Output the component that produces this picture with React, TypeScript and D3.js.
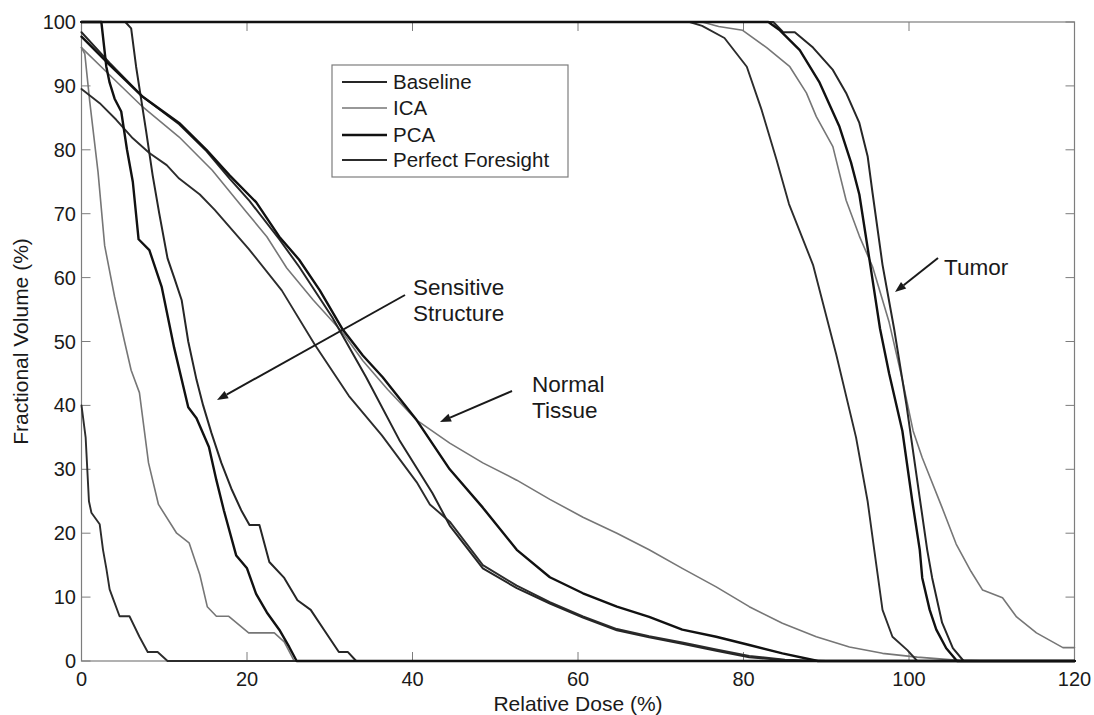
import React from "react";
import * as d3 from "d3";

type P = [number, number];

// ---------- data (dose %, fractional volume %) ----------
const xTicks = [0, 20, 40, 60, 80, 100, 120];
const yTicks = [0, 10, 20, 30, 40, 50, 60, 70, 80, 90, 100];
const seriesNames = ["Baseline", "ICA", "PCA", "Perfect Foresight"];

// Tumor
const tumorPF: P[] = [[0,100],[73.5,100],[75,99.4],[77.7,97.5],[80.4,93],[82.2,86.2],[84,78.4],[85.5,71.5],[88.4,62],[91.2,48],[93.6,35],[95,25],[95.8,17.4],[96.8,8],[98,3.8],[99.8,1.7],[101,0],[120,0]];
const tumorICA: P[] = [[0,100],[75,100],[77,99.3],[79.9,98.7],[82.8,96],[85.6,93],[87.6,88.9],[88.8,85.2],[90.8,80.5],[92.4,72.1],[94,66.5],[95.6,61.7],[97.6,53],[99.2,44],[100.5,36],[101.6,31.8],[104,24],[105.7,18.3],[107.5,14],[108.9,11.1],[111.3,9.9],[113,6.9],[115.4,4.4],[118.6,2.1],[120,2.1]];
const tumorPCA: P[] = [[0,100],[83,100],[84.4,98.7],[86.8,95.6],[89.2,90.5],[91.6,83.6],[93,78],[94,73],[95.2,63],[96.5,52],[97.6,45],[99.2,36],[100.4,25],[101.3,17.4],[101.6,13],[102.5,8],[103.3,4.9],[104.5,2],[105.8,0],[120,0]];
const tumorBaseline: P[] = [[0,100],[83.6,100],[84.8,98.4],[86.2,98.4],[88.4,96],[90.8,92.5],[92.4,88.9],[94,84.2],[95,79],[95.6,73.2],[96.8,62],[98.2,52],[99.7,40],[101.3,25.5],[102.2,17.4],[102.8,13],[104,6],[105.3,2],[106.6,0],[120,0]];

// Sensitive structure
const sensPF: P[] = [[0,40],[0.5,35],[0.9,25],[1.2,23.2],[2.2,21.4],[2.6,17.4],[3,14.5],[3.4,11.2],[3.8,9.8],[4.6,7],[5.8,7],[7,3.8],[8,1.4],[9.2,1.4],[10.4,0],[120,0]];
const sensICA: P[] = [[0,96],[0.4,95],[1,87.5],[2,76.5],[2.8,65],[4,57],[5.2,50],[6,45.5],[7,42],[8.1,31],[9.3,24.5],[11.5,20],[13,18.5],[14.3,13.5],[15.2,8.5],[16.3,7],[17.8,7],[20.2,4.4],[23.3,4.4],[24.5,3],[25.7,0],[120,0]];
const sensPCA: P[] = [[0,100],[2.4,100],[3,93],[3.4,90.5],[4,88],[4.8,86],[5.5,80],[6.2,75],[6.9,66],[8.2,64.3],[9.7,58.5],[11.2,49],[12.9,39.7],[13.9,38],[15.4,33.5],[16.3,28.3],[17.2,23.6],[18.7,16.5],[20,14.5],[21.1,10.5],[22.4,7.6],[23.9,4.9],[25.1,2.2],[26,0],[120,0]];
const sensBaseline: P[] = [[0,100],[5.3,100],[6,99],[6.6,93],[7.2,88],[7.8,83],[8.6,76],[9.4,70],[10.4,63],[11.2,60],[12.1,56.5],[12.9,50],[13.9,44],[14.7,40],[15.7,35.7],[16.9,31],[18.1,27],[19.3,23.6],[20.3,21.3],[21.5,21.3],[22.7,15.5],[24.5,13],[26.1,9.5],[27.7,8],[29.3,4.9],[31.1,1.4],[32.2,1.4],[33.2,0],[120,0]];

// Normal tissue
const normPF: P[] = [[0,89.5],[2.2,87.3],[4.2,84.7],[6.2,81.8],[8.2,79.5],[10.3,77.6],[11.8,75.5],[14.3,73],[16.1,70.6],[20.2,64.5],[24.2,58],[28.2,49.5],[32.3,41.5],[36.3,35.3],[40.5,28],[42.1,24.5],[44.5,21.8],[48.5,15],[52.6,11.8],[56.6,9.2],[60.6,7],[64.7,5],[68.6,3.9],[72.6,2.9],[76.7,1.8],[80.7,0.8],[85,0.2],[90,0],[120,0]];
const normBaseline: P[] = [[0,98.4],[3.4,93.6],[7.4,88.3],[11.8,84],[15.1,79.8],[17.9,75.5],[20.3,72],[23.9,66],[26.3,61.7],[30.3,53.8],[34.4,44.4],[38.4,34.6],[42.4,26.3],[44.5,21.2],[48.5,14.5],[52.6,11.4],[56.6,9],[60.6,6.8],[64.7,4.8],[68.6,3.7],[72.6,2.7],[76.7,1.6],[80.7,0.6],[86,0],[120,0]];
const normPCA: P[] = [[0,97.7],[3.4,93.3],[7.4,88.3],[11.8,84.2],[15.1,80],[17.9,76],[21.1,71.8],[23.9,66.4],[26.3,62.8],[28.8,58],[31.5,52],[34,47.8],[36.4,44.4],[40.5,37.7],[44.5,30],[48.5,24],[52.6,17.4],[56.6,13.1],[60.6,10.6],[64.7,8.5],[68.6,6.9],[72.6,4.9],[76.7,3.8],[80.7,2.5],[84.7,1.2],[89,0],[120,0]];
const normICA: P[] = [[0,96],[3.4,91.7],[7.4,86.7],[11.8,82],[15.8,76.8],[19.9,70.3],[22.4,66.4],[24.8,61.5],[28,56.5],[31.5,51.5],[34,47],[37,42.5],[40.5,37.7],[44.5,34.1],[48.5,31],[52.6,28.3],[56.6,25.3],[60.6,22.5],[64.7,20],[68.6,17.4],[72.6,14.5],[76.7,11.6],[80.7,8.5],[84.7,5.9],[88.8,3.8],[92.8,2.2],[96.8,1.2],[101,0.6],[106,0.1],[110,0],[120,0]];

const styles: Record<string, { stroke: string; width: number }> = {
  Baseline: { stroke: "#262626", width: 2 },
  ICA: { stroke: "#767676", width: 1.6 },
  PCA: { stroke: "#111111", width: 2.4 },
  "Perfect Foresight": { stroke: "#2c2c2c", width: 1.9 },
};

const curves: { name: string; data: P[] }[] = [
  { name: "ICA", data: normICA },
  { name: "ICA", data: sensICA },
  { name: "ICA", data: tumorICA },
  { name: "Perfect Foresight", data: normPF },
  { name: "Perfect Foresight", data: sensPF },
  { name: "Perfect Foresight", data: tumorPF },
  { name: "Baseline", data: normBaseline },
  { name: "Baseline", data: sensBaseline },
  { name: "Baseline", data: tumorBaseline },
  { name: "PCA", data: normPCA },
  { name: "PCA", data: sensPCA },
  { name: "PCA", data: tumorPCA },
];

const FONT = "'Liberation Sans', Arial, Helvetica, sans-serif";

export default function App() {
  const W = 1094, H = 715;
  const x = d3.scaleLinear().domain([0, 120]).range([81.5, 1074.5]);
  const y = d3.scaleLinear().domain([0, 100]).range([661, 22]);
  const line = d3.line<P>().x((d) => x(d[0])).y((d) => y(d[1])).curve(d3.curveLinear);
  const axisColor = "#7d7d7d";
  const tl = 9;
  const txt = "#1a1a1a";

  const arrow = (x1: number, y1: number, x2: number, y2: number, key: string) => {
    const a = Math.atan2(y2 - y1, x2 - x1);
    const L = 11, Wd = 4.2;
    const bx = x2 - L * Math.cos(a), by = y2 - L * Math.sin(a);
    const p1 = [bx + Wd * Math.sin(a), by - Wd * Math.cos(a)];
    const p2 = [bx - Wd * Math.sin(a), by + Wd * Math.cos(a)];
    return (
      <g key={key}>
        <line x1={x1} y1={y1} x2={bx} y2={by} stroke={txt} strokeWidth={2} />
        <path d={`M${x2},${y2}L${p1[0]},${p1[1]}L${p2[0]},${p2[1]}Z`} fill={txt} />
      </g>
    );
  };

  const legendRows = [82, 108, 135, 160];

  return (
    <svg width={W} height={H} style={{ position: "absolute", left: 0, top: 0, background: "#fff" }} fontFamily={FONT}>
      <rect x={0} y={0} width={W} height={H} fill="#fff" />
      {/* axes box */}
      <rect x={x(0)} y={y(100)} width={x(120) - x(0)} height={y(0) - y(100)} fill="none" stroke={axisColor} strokeWidth={1.2} />
      {xTicks.map((t) => (
        <g key={"xt" + t}>
          <line x1={x(t)} x2={x(t)} y1={y(0)} y2={y(0) - tl} stroke={axisColor} />
          <line x1={x(t)} x2={x(t)} y1={y(100)} y2={y(100) + tl} stroke={axisColor} />
          <text x={x(t)} y={686} textAnchor="middle" fontSize={20} fill={txt}>{t}</text>
        </g>
      ))}
      {yTicks.map((t) => (
        <g key={"yt" + t}>
          <line x1={x(0)} x2={x(0) + tl} y1={y(t)} y2={y(t)} stroke={axisColor} />
          <line x1={x(120)} x2={x(120) - tl} y1={y(t)} y2={y(t)} stroke={axisColor} />
          <text x={76} y={y(t) + 7} textAnchor="end" fontSize={20} fill={txt}>{t}</text>
        </g>
      ))}
      <text x={(x(0) + x(120)) / 2} y={711} textAnchor="middle" fontSize={21} fill={txt}>Relative Dose (%)</text>
      <text transform={`translate(28,${(y(0) + y(100)) / 2}) rotate(-90)`} textAnchor="middle" fontSize={21} fill={txt}>Fractional Volume (%)</text>

      {/* curves */}
      <g fill="none" strokeLinejoin="round" strokeLinecap="round">
        {curves.map((c, i) => (
          <path key={i} d={line(c.data) || ""} stroke={styles[c.name].stroke} strokeWidth={styles[c.name].width} />
        ))}
      </g>

      {/* legend */}
      <rect x={332} y={65} width={236} height={112} fill="#fff" stroke={axisColor} strokeWidth={1.2} />
      {seriesNames.map((n, i) => (
        <g key={n}>
          <line x1={342} x2={387} y1={legendRows[i]} y2={legendRows[i]} stroke={styles[n].stroke} strokeWidth={styles[n].width} />
          <text x={393} y={legendRows[i] + 7} fontSize={20.5} fill={txt}>{n}</text>
        </g>
      ))}

      {/* annotations */}
      <text x={413} y={295} fontSize={22.5} fill={txt}>Sensitive</text>
      <text x={413} y={321} fontSize={22.5} fill={txt}>Structure</text>
      {arrow(405, 295, 217, 400, "a1")}
      <text x={532} y={392} fontSize={22.5} fill={txt}>Normal</text>
      <text x={532} y={418} fontSize={22.5} fill={txt}>Tissue</text>
      {arrow(512, 391, 440, 422, "a2")}
      <text x={944} y={275} fontSize={22.5} fill={txt}>Tumor</text>
      {arrow(938, 258, 895, 292, "a3")}
    </svg>
  );
}
